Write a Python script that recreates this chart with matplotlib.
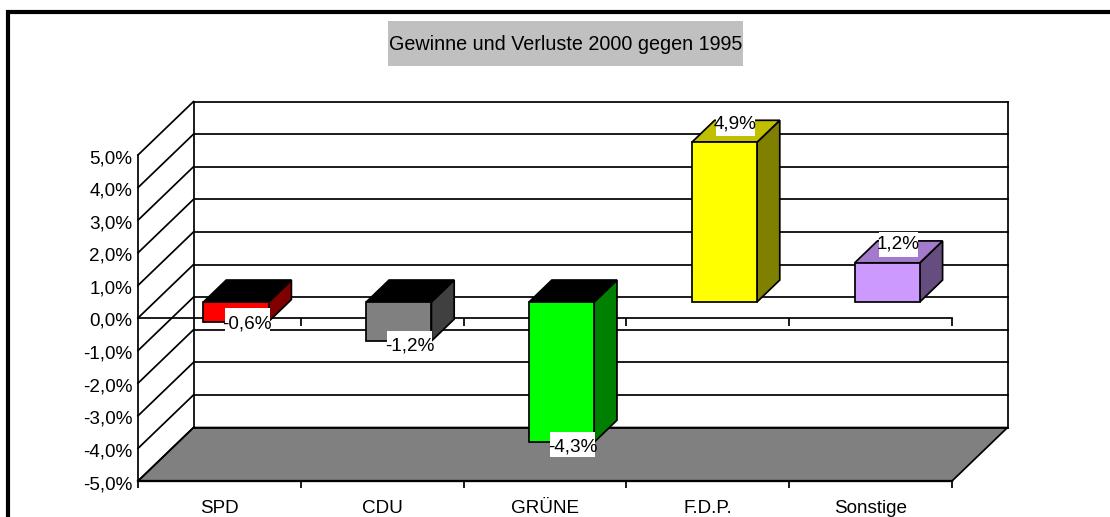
#!/usr/bin/env python
import matplotlib
matplotlib.use("Agg")
import matplotlib.pyplot as plt
from matplotlib.patches import Polygon, Rectangle
from matplotlib.transforms import ScaledTranslation, IdentityTransform

# chart values
categories = ["SPD", "CDU", "GRÜNE", "F.D.P.", "Sonstige"]
values = [-0.6, -1.2, -4.3, 4.9, 1.2]
value_labels = ["-0,6%", "-1,2%", "-4,3%", "4,9%", "1,2%"]
y_ticks = [5, 4, 3, 2, 1, 0, -1, -2, -3, -4, -5]
y_tick_labels = ["5,0%", "4,0%", "3,0%", "2,0%", "1,0%", "0,0%", "-1,0%", "-2,0%", "-3,0%", "-4,0%", "-5,0%"]
title = "Gewinne und Verluste 2000 gegen 1995"

front_colors = ["#ff0000", "#808080", "#00ff00", "#ffff00", "#cc99ff"]
side_colors = ["#800000", "#404040", "#008000", "#808000", "#664d80"]
top_colors = ["#000000", "#000000", "#000000", "#c0c000", "#a37acc"]

W, H = 1110, 517
# oblique projection of the depth axis, in data units per full depth
DX = 0.341
DY = 1.64
BAR_FRONT = 0.30
BAR_BACK = 0.71
BAR_MARGIN = 0.30
BAR_WIDTH = 0.40
LW = 1.25
TEXT_SIZE = 13.6

plt.rcParams["font.family"] = ["Liberation Sans"]


def proj(x, y, d):
    return (x + d * DX, y + d * DY)


fig = plt.figure(figsize=(W / 100, H / 100), dpi=100)
fig.patch.set_facecolor("white")

# thick outer frame, only the left and top edges are inside the picture
fig.add_artist(Rectangle((8 / W, -0.1), 1.2, 1.1 - 12 / H, transform=fig.transFigure,
                         fill=False, edgecolor="black", linewidth=3))
fig.add_artist(Rectangle((388 / W, 1 - 66 / H), 355 / W, 45 / H, transform=fig.transFigure,
                         facecolor="#c0c0c0", edgecolor="none"))
fig.text(566 / W, 1 - 45 / H, title, ha="center", va="center", fontsize=14.2, color="black")

ax = fig.add_axes([138 / W, (H - 481) / H, 814 / W, 326 / H])
ax.set_xlim(0, len(categories))
ax.set_ylim(-5, 5)
ax.patch.set_visible(False)
for s in ["top", "right"]:
    ax.spines[s].set_visible(False)
ax.spines["left"].set_linewidth(LW)
ax.spines["bottom"].set_linewidth(LW + 0.4)

n = len(categories)

# floor
ax.add_patch(Polygon([proj(0, -5, 0), proj(n, -5, 0), proj(n, -5, 1), proj(0, -5, 1)],
                     facecolor="#808080", edgecolor="black", linewidth=LW, clip_on=False, zorder=1))

# back wall and left wall grid
for v in y_ticks:
    bx, by = proj(0, v, 1)
    ex, ey = proj(n, v, 1)
    ax.plot([bx, ex], [by, ey], color="black", lw=LW, clip_on=False, zorder=1.5)
    ax.plot([0, bx], [v, by], color="black", lw=LW, clip_on=False, zorder=1.5)
for x in [0, n]:
    b = proj(x, -5, 1)
    t = proj(x, 5, 1)
    ax.plot([b[0], t[0]], [b[1], t[1]], color="black", lw=LW, clip_on=False, zorder=1.5)

# zero axis with its ticks
ax.plot([0, n], [0, 0], color="black", lw=LW, clip_on=False, zorder=2)
ax.vlines(range(1, n + 1), -0.25, 0, color="black", lw=LW, clip_on=False, zorder=2)

# bars
for i, v in enumerate(values):
    x0 = i + BAR_MARGIN
    x1 = x0 + BAR_WIDTH
    top = max(v, 0)
    front = [proj(x0, 0, BAR_FRONT), proj(x1, 0, BAR_FRONT), proj(x1, v, BAR_FRONT), proj(x0, v, BAR_FRONT)]
    side = [proj(x1, 0, BAR_FRONT), proj(x1, v, BAR_FRONT), proj(x1, v, BAR_BACK), proj(x1, 0, BAR_BACK)]
    cap = [proj(x0, top, BAR_FRONT), proj(x1, top, BAR_FRONT), proj(x1, top, BAR_BACK), proj(x0, top, BAR_BACK)]
    for pts, col in [(side, side_colors[i]), (cap, top_colors[i]), (front, front_colors[i])]:
        ax.add_patch(Polygon(pts, facecolor=col, edgecolor="black", linewidth=LW,
                             joinstyle="miter", clip_on=False, zorder=3))

# value labels on white boxes, the box is a bit narrower than the text
for i, v in enumerate(values):
    lx, ly = proj(i + 0.5, v, 0.5)
    if v > 0:
        off = 8
    elif v < -1:
        off = -16
    else:
        off = -13
    box_w = 39 if v > 0 else 45
    box_off = off if v > 0 else off + 3
    tr = IdentityTransform() + ScaledTranslation(lx, ly, ax.transData)
    ax.add_patch(Rectangle((-box_w / 2, box_off - 12.5), box_w, 25, transform=tr,
                           facecolor="white", edgecolor="none", clip_on=False, zorder=4))
    ax.annotate(value_labels[i], (lx, ly), xytext=(0, off), textcoords="offset pixels",
                ha="center", va="center", fontsize=TEXT_SIZE, color="black", zorder=5,
                annotation_clip=False)

ax.set_yticks(y_ticks)
ax.set_yticklabels(y_tick_labels)
ax.tick_params(axis="y", length=0, pad=4, labelsize=TEXT_SIZE)
nudge = ScaledTranslation(0, -1.5 / 100, fig.dpi_scale_trans)
for lab in ax.get_yticklabels():
    lab.set_transform(lab.get_transform() + nudge)
ax.set_xticks(range(n + 1))
ax.set_xticklabels([])
ax.set_xticks([i + 0.5 for i in range(n)], categories, minor=True)
ax.tick_params(axis="x", which="major", length=5, width=LW)
ax.tick_params(axis="x", which="minor", length=0, pad=14, labelsize=TEXT_SIZE)

plt.savefig("out.png", dpi=100)
